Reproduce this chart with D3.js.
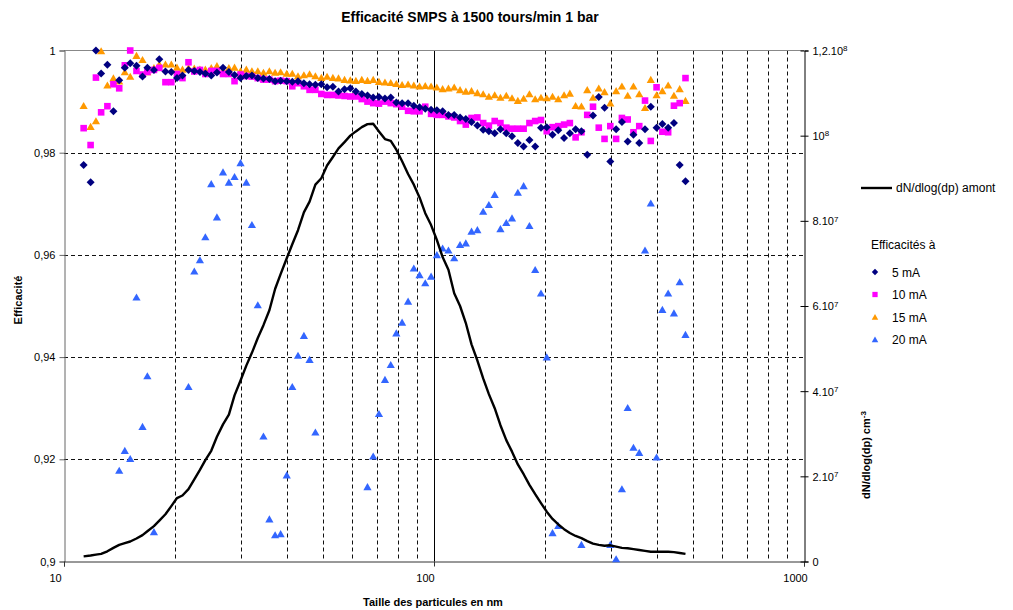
<!DOCTYPE html>
<html><head><meta charset="utf-8">
<script src="https://cdn.jsdelivr.net/npm/d3@7"></script>
<style>body{margin:0;background:#fff;} text{font-family:"Liberation Sans",Arial,sans-serif;}</style>
</head><body>
<svg id="c" width="1013" height="610"></svg>
<script>
// ---- data ----
const diameters = [11.3,11.8,12.2,12.6,13.1,13.6,14.1,14.6,15.1,15.7,
16.3,16.8,17.5,18.1,18.8,19.5,20.2,20.9,21.7,22.5,
23.3,24.1,25.0,25.9,26.9,27.9,28.9,30.0,31.1,32.2,
33.4,34.6,35.9,37.2,38.5,40.0,41.4,42.9,44.5,46.1,
47.8,49.6,51.4,53.3,55.2,57.3,59.4,61.5,63.8,66.1,
68.5,71.0,73.7,76.4,79.1,82.0,85.1,88.2,91.4,94.7,
98.2,101.8,105.5,109.4,113.4,117.6,121.9,126.3,131.0,135.8,
140.7,145.9,151.2,156.8,162.5,168.5,174.7,181.1,187.7,194.6,
201.7,209.1,216.7,224.7,232.9,241.4,250.3,259.5,269.0,278.8,
289.0,299.6,310.6,322.0,333.8,346.0,358.7,371.8,385.4,399.5,
414.2,429.4,445.1,461.4,478.3];

const eff5mA = [0.9776,0.9742,1.0000,0.9955,0.9972,0.9881,0.9942,0.9966,0.9975,0.9970,
0.9949,0.9966,0.9962,0.9983,0.9959,0.9958,0.9946,0.9951,0.9962,0.9960,
0.9958,0.9955,0.9951,0.9957,0.9966,0.9958,0.9952,0.9946,0.9950,0.9951,
0.9946,0.9945,0.9944,0.9940,0.9941,0.9940,0.9939,0.9940,0.9936,0.9934,
0.9933,0.9934,0.9928,0.9929,0.9920,0.9924,0.9926,0.9920,0.9915,0.9912,
0.9908,0.9909,0.9906,0.9908,0.9898,0.9897,0.9897,0.9892,0.9889,0.9886,
0.9884,0.9883,0.9881,0.9874,0.9874,0.9869,0.9866,0.9860,0.9853,0.9845,
0.9842,0.9838,0.9846,0.9838,0.9832,0.9819,0.9812,0.9825,0.9812,0.9849,
0.9850,0.9835,0.9844,0.9829,0.9838,0.9846,0.9842,0.9796,0.9873,0.9909,
0.9888,0.9783,0.9846,0.9860,0.9822,0.9835,0.9819,0.9846,0.9890,0.9849,
0.9856,0.9849,0.9858,0.9776,0.9744];

const eff10mA = [0.9848,0.9815,0.9947,0.9879,0.9891,0.9934,0.9926,0.9971,1.0000,0.9960,
0.9953,0.9958,0.9962,0.9966,0.9938,0.9938,0.9954,0.9946,0.9977,0.9959,
0.9962,0.9954,0.9960,0.9960,0.9954,0.9954,0.9940,0.9953,0.9950,0.9949,
0.9946,0.9943,0.9943,0.9940,0.9941,0.9940,0.9930,0.9936,0.9930,0.9923,
0.9923,0.9915,0.9913,0.9913,0.9912,0.9911,0.9910,0.9910,0.9905,0.9900,
0.9897,0.9896,0.9900,0.9897,0.9895,0.9890,0.9882,0.9881,0.9881,0.9890,
0.9876,0.9874,0.9874,0.9871,0.9869,0.9862,0.9855,0.9868,0.9869,0.9858,
0.9853,0.9862,0.9858,0.9849,0.9847,0.9847,0.9847,0.9858,0.9862,0.9864,
0.9842,0.9850,0.9852,0.9855,0.9858,0.9830,0.9840,0.9874,0.9890,0.9849,
0.9827,0.9852,0.9827,0.9868,0.9865,0.9840,0.9852,0.9902,0.9823,0.9928,
0.9841,0.9840,0.9892,0.9897,0.9946];

const eff15mA = [0.9892,0.9851,0.9862,0.9999,0.9932,0.9946,0.9940,0.9958,0.9949,0.9990,
0.9982,0.9958,0.9966,0.9973,0.9973,0.9973,0.9967,0.9963,0.9966,0.9965,
0.9963,0.9963,0.9966,0.9970,0.9960,0.9966,0.9967,0.9960,0.9963,0.9960,
0.9960,0.9957,0.9960,0.9957,0.9958,0.9955,0.9955,0.9950,0.9952,0.9954,
0.9950,0.9947,0.9949,0.9947,0.9946,0.9943,0.9942,0.9941,0.9943,0.9941,
0.9943,0.9939,0.9938,0.9937,0.9935,0.9933,0.9934,0.9932,0.9930,0.9931,
0.9930,0.9928,0.9925,0.9926,0.9928,0.9923,0.9920,0.9921,0.9917,0.9915,
0.9910,0.9913,0.9908,0.9912,0.9907,0.9902,0.9906,0.9915,0.9905,0.9908,
0.9907,0.9910,0.9905,0.9913,0.9916,0.9892,0.9891,0.9923,0.9908,0.9926,
0.9919,0.9897,0.9921,0.9930,0.9912,0.9930,0.9915,0.9888,0.9943,0.9913,
0.9921,0.9932,0.9912,0.9925,0.9902];

// null = point below the axis minimum (not visible)
const eff20mA = [null,null,null,null,null,null,0.9178,0.9217,0.9201,0.9517,
0.9264,0.9363,0.9058,null,null,null,null,null,0.9342,0.9568,
0.9590,0.9635,0.9739,0.9674,0.9762,0.9742,0.9753,0.9780,0.9742,0.9659,
0.9502,0.9245,0.9083,0.9052,0.9054,0.9169,0.9342,0.9403,0.9442,0.9395,
0.9253,null,null,null,null,null,null,null,null,0.9146,
0.9206,0.9289,0.9356,0.9385,0.9447,0.9468,0.9509,0.9574,0.9561,0.9545,
0.9558,0.9600,0.9613,0.9609,0.9594,0.9620,0.9623,0.9646,0.9649,0.9685,
0.9698,0.9718,0.9651,0.9663,0.9672,0.9722,0.9735,0.9657,0.9571,0.9525,
0.9400,0.9056,0.9070,null,null,null,0.9033,null,null,null,
null,0.9033,0.9005,0.9142,0.9301,0.9223,0.9213,0.9609,0.9701,0.9204,
0.9493,0.9525,0.9486,0.9547,0.9444];

// dN/dlog(dp) upstream, in units of 1e7 cm-3
const dNdlogDp = [0.12,0.14,0.16,0.18,0.24,0.32,0.39,0.43,0.47,0.54,
0.62,0.71,0.83,0.96,1.11,1.30,1.49,1.55,1.70,1.93,
2.15,2.38,2.60,2.93,3.22,3.45,3.90,4.25,4.60,4.90,
5.25,5.55,5.90,6.40,6.75,7.12,7.45,7.78,8.20,8.45,
8.85,9.00,9.30,9.50,9.70,9.85,10.00,10.10,10.20,10.27,
10.28,10.10,9.92,9.88,9.67,9.40,9.10,8.85,8.55,8.18,
7.90,7.55,7.15,6.85,6.30,6.00,5.60,5.10,4.72,4.30,
3.93,3.60,3.20,2.85,2.58,2.28,2.05,1.80,1.58,1.37,
1.17,1.00,0.87,0.76,0.67,0.60,0.55,0.48,0.42,0.39,
0.37,0.38,0.35,0.32,0.31,0.29,0.27,0.25,0.23,0.23,
0.23,0.23,0.22,0.20,0.18];

const xTickValues = [10, 100, 1000];
const xTickLabels = ["10", "100", "1000"];
const xGridValues = [20,30,40,50,60,70,80,90,200,300,400,500,600,700,800,900];
const yLeftTicks = [0.9, 0.92, 0.94, 0.96, 0.98, 1];
const yLeftLabels = ["0,9", "0,92", "0,94", "0,96", "0,98", "1"];
const yRightTicks = [0, 2e7, 4e7, 6e7, 8e7, 1e8, 1.2e8];
const yRightMant = ["0", "2.10", "4.10", "6.10", "8.10", "10", "1,2.10"];
const yRightExp = ["", "7", "7", "7", "7", "8", "8"];
const seriesNames = ["5 mA", "10 mA", "15 mA", "20 mA"];
const seriesColors = ["#000080", "#FF00FF", "#FF9900", "#3366FF"];
const seriesShapes = ["diamond", "square", "triangle", "triangle"];
const lineName = "dN/dlog(dp) amont";

// ---- layout ----
const L = 64, R = 804, T = 50.5, B = 561.5;
const svg = d3.select("#c");
const x = d3.scaleLog().domain([10, 1000]).range([L, R]);
const yL = d3.scaleLinear().domain([0.9, 1]).range([B, T]);
const yR = d3.scaleLinear().domain([0, 1.2e8]).range([B, T]);

// grid
const g = svg.append("g");
g.selectAll("line.hg").data(yLeftTicks.filter(v => v > 0.9 && v < 1)).join("line")
  .attr("x1", L).attr("x2", R).attr("y1", d => Math.round(yL(d)) + 0.5).attr("y2", d => Math.round(yL(d)) + 0.5)
  .attr("stroke", "#111").attr("stroke-width", 1).attr("stroke-dasharray", "4,3");
g.selectAll("line.vg").data(xGridValues).join("line")
  .attr("x1", d => Math.round(x(d)) + 0.5).attr("x2", d => Math.round(x(d)) + 0.5).attr("y1", T).attr("y2", B)
  .attr("stroke", "#111").attr("stroke-width", 1).attr("stroke-dasharray", "4,3");
g.append("line").attr("x1", Math.round(x(100)) + 0.5).attr("x2", Math.round(x(100)) + 0.5)
  .attr("y1", T).attr("y2", B).attr("stroke", "#000").attr("stroke-width", 1);
// top border
g.append("line").attr("x1", L).attr("x2", R).attr("y1", T).attr("y2", T).attr("stroke", "#888");

// axes
const axL = svg.append("g").attr("transform", `translate(${L + 0.5},0)`)
  .call(d3.axisLeft(yL).tickValues(yLeftTicks).tickSize(5).tickFormat((d, i) => yLeftLabels[i]));
axL.select(".domain").attr("stroke", "#666");
axL.selectAll(".tick line").attr("stroke", "#666");
axL.selectAll("text").attr("font-size", 11).attr("fill", "#000").attr("x", -9).attr("font-family", "Liberation Sans, Arial");

const axB = svg.append("g").attr("transform", `translate(0,${B})`)
  .call(d3.axisBottom(x).tickValues(xTickValues).tickSize(5).tickFormat((d, i) => xTickLabels[i]));
axB.select(".domain").attr("stroke", "#333");
axB.selectAll(".tick line").attr("stroke", "#333");
axB.selectAll("text").attr("font-size", 11).attr("fill", "#000").attr("dx", -9).attr("y", 13).attr("font-family", "Liberation Sans, Arial");

const axR = svg.append("g").attr("transform", `translate(${R + 0.5},0)`)
  .call(d3.axisRight(yR).tickValues(yRightTicks).tickSize(4).tickFormat(""));
axR.select(".domain").attr("stroke", "#000");
axR.selectAll(".tick line").attr("x1", -4).attr("x2", 4).attr("stroke", "#000");
axR.selectAll(".tick").each(function(d, i) {
  const t = d3.select(this).append("text").attr("x", 8).attr("dy", "0.35em")
    .attr("font-size", 11).attr("fill", "#000").attr("text-anchor", "start");
  t.append("tspan").text(yRightMant[i]);
  if (yRightExp[i]) t.append("tspan").attr("dy", "-0.45em").attr("font-size", 8).text(yRightExp[i]);
});

// markers
function markerPath(shape) {
  if (shape === "diamond") return "M0,-4L4,0L0,4L-4,0Z";
  if (shape === "square") return "M-3.3,-3.3H3.3V3.3H-3.3Z";
  return "M0,-3.8L4.1,3.3H-4.1Z";
}
const seriesData = [eff5mA, eff10mA, eff15mA, eff20mA];
const drawOrder = [3, 2, 1, 0];
drawOrder.forEach(si => {
  const pts = diameters.map((d, i) => ({d, v: seriesData[si][i]})).filter(p => p.v != null && p.v >= 0.9);
  svg.append("g").selectAll("path").data(pts).join("path")
    .attr("d", markerPath(seriesShapes[si]))
    .attr("transform", p => `translate(${x(p.d)},${yL(p.v)})`)
    .attr("fill", seriesColors[si]);
});

// line
const lineGen = d3.line().x((d, i) => x(diameters[i])).y(d => yR(d * 1e7));
svg.append("path").datum(dNdlogDp).attr("d", lineGen)
  .attr("fill", "none").attr("stroke", "#000").attr("stroke-width", 2.4).attr("stroke-linejoin", "round");

// titles
svg.append("text").attr("x", 470).attr("y", 22).attr("text-anchor", "middle")
  .attr("font-size", 14).attr("font-weight", "bold").text("Efficacité SMPS à 1500 tours/min 1 bar");
svg.append("text").attr("x", 433).attr("y", 606).attr("text-anchor", "middle")
  .attr("font-size", 11).attr("font-weight", "bold").text("Taille des particules en nm");
svg.append("text").attr("transform", "translate(22,300) rotate(-90)").attr("text-anchor", "middle")
  .attr("font-size", 11).attr("font-weight", "bold").text("Efficacité");
const rt = svg.append("text").attr("transform", "translate(870,455) rotate(-90)").attr("text-anchor", "middle")
  .attr("font-size", 11).attr("font-weight", "bold");
rt.append("tspan").text("dN/dlog(dp) cm");
rt.append("tspan").attr("dy", "-0.45em").attr("font-size", 8).text("-3");

// legend
svg.append("line").attr("x1", 861).attr("x2", 892).attr("y1", 188).attr("y2", 188)
  .attr("stroke", "#000").attr("stroke-width", 2.4);
svg.append("text").attr("x", 896).attr("y", 192).attr("font-size", 12).text(lineName);
svg.append("text").attr("x", 871).attr("y", 249).attr("font-size", 12).text("Efficacités à");
seriesNames.forEach((n, i) => {
  const yy = 272 + i * 22.5;
  svg.append("path").attr("d", markerPath(seriesShapes[i])).attr("transform", `translate(875,${yy}) scale(0.8)`)
    .attr("fill", seriesColors[i]);
  svg.append("text").attr("x", 892).attr("y", yy + 4.5).attr("font-size", 12).text(n);
});
</script>
</body></html>
